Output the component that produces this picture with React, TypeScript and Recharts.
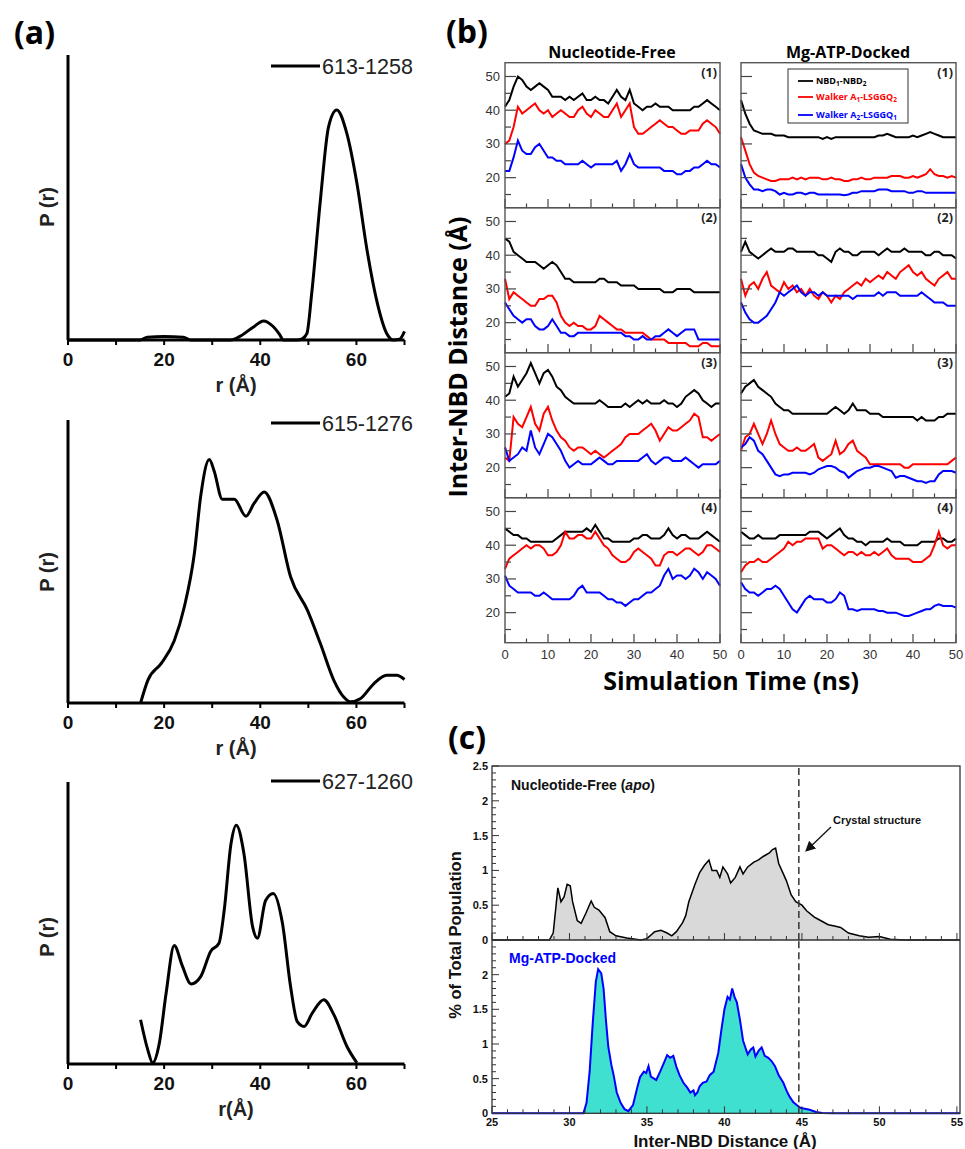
import React from 'react';
import { LineChart, Line, AreaChart, Area, XAxis, YAxis, ReferenceLine } from 'recharts';

const ARIAL = '"Liberation Sans", Arial, Helvetica, sans-serif';
const MYRIAD = '"Open Sans", "Noto Sans", sans-serif';

// ---------- (a) P(r) distance distributions ----------
const A1_R = [0, 15, 16.5, 20, 24, 25.5, 33.8, 36, 38.5, 40.7, 42.5, 44, 44.8, 47.6, 48.8, 49.7, 50.7, 52.5, 54.2, 55.9, 58, 60.1, 62.2, 64.2, 66.3, 67.7, 69, 70];
const A1_P = [0, 0, 1, 1.2, 1, 0, 0, 1.5, 4.5, 6.7, 5, 2, 0, 0, 0.5, 2.3, 16.4, 49, 74.8, 80.7, 72.5, 55, 31.6, 14, 2.3, 0, 0.3, 3];

const A2_R = [15.1, 16.6, 19.4, 22.1, 24.2, 26.3, 27.6, 29.4, 30.4, 32.1, 34.6, 37, 38.7, 40.8, 43.5, 46.3, 49.8, 52.5, 55.3, 57.4, 58.7, 60.8, 63.6, 66.3, 68.4, 70];
const A2_P = [0, 8, 14, 22, 34, 53, 73, 86, 82, 72, 72, 66, 70.5, 74.6, 64.6, 44.6, 32.8, 21, 8, 2, 0.4, 1.5, 6.8, 9.8, 9.8, 8.3];

const A3_R = [15.1, 16.6, 17.6, 19, 20.4, 22.1, 23.8, 25.6, 27.6, 29.7, 31.4, 32.5, 33.9, 35, 36.6, 38.4, 39.4, 41.1, 42.7, 44.6, 46.3, 47.7, 49.1, 50.8, 53.2, 55.3, 58, 60.1];
const A3_P = [15.7, 5, 0.4, 7.4, 25, 42, 34.7, 28.4, 31, 40, 42.8, 54.6, 78, 84.7, 74.6, 48.7, 44.6, 58, 60.5, 50, 27.5, 15, 13.3, 18, 22.8, 17.5, 6.3, 0.4];

const A_NAMES = ['613-1258', '615-1276', '627-1260'];
const A_R_TICKS = [0, 10, 20, 30, 40, 50, 60, 70];

// ---------- (b) inter-NBD distance vs simulation time ----------
const TIME = [
  0, 1, 2, 3, 4, 5, 6, 7, 8, 9,
  10, 11, 12, 13, 14, 15, 16, 17, 18, 19,
  20, 21, 22, 23, 24, 25, 26, 27, 28, 29,
  30, 31, 32, 33, 34, 35, 36, 37, 38, 39,
  40, 41, 42, 43, 44, 45, 46, 47, 48, 49,
  50,
];

const NF1_BLK = [41, 43, 47, 50, 49, 47, 46, 47, 48, 47, 46, 44, 44, 44, 43, 44, 43, 44, 45, 43, 43, 44, 43, 43, 42, 44, 46, 44, 43, 46, 42, 41, 40, 41, 41, 42, 41, 41, 41, 40, 40, 40, 40, 40, 41, 41, 42, 43, 42, 41, 40];
const NF1_RED = [30, 31, 35, 41, 39, 40, 41, 42, 40, 39, 40, 38, 39, 40, 39, 38, 38, 40, 41, 39, 38, 40, 39, 38, 38, 40, 42, 38, 40, 42, 35, 33, 33, 34, 35, 36, 37, 36, 35, 35, 34, 33, 33, 34, 34, 34, 36, 37, 36, 35, 33];
const NF1_BLU = [22, 22, 26, 31, 28, 27, 27, 29, 30, 28, 26, 26, 25, 25, 24, 24, 24, 24, 25, 24, 23, 24, 24, 24, 24, 24, 25, 22, 24, 27, 24, 23, 23, 23, 23, 23, 23, 22, 22, 22, 21, 21, 22, 22, 23, 23, 24, 25, 24, 24, 23];

const NF2_BLK = [45, 44, 41, 40, 39, 38, 38, 38, 37, 36, 37, 38, 37, 35, 33, 33, 32, 32, 32, 32, 32, 32, 33, 33, 32, 32, 32, 31, 31, 31, 31, 30, 30, 30, 30, 30, 30, 29, 29, 29, 30, 30, 30, 30, 29, 29, 29, 29, 29, 29, 29];
const NF2_RED = [33, 27, 29, 28, 27, 26, 25, 25, 27, 27, 28, 28, 26, 22, 20, 19, 20, 19, 19, 18, 18, 19, 22, 21, 20, 19, 18, 18, 17, 17, 17, 17, 17, 16, 15, 15, 15, 15, 14, 14, 14, 14, 14, 13, 13, 13, 14, 14, 13, 13, 13];
const NF2_BLU = [26, 24, 22, 21, 20, 21, 21, 19, 18, 18, 19, 21, 19, 17, 17, 16, 16, 17, 17, 17, 17, 17, 17, 17, 17, 17, 17, 17, 16, 16, 15, 15, 16, 15, 15, 16, 16, 17, 18, 17, 16, 17, 18, 18, 18, 15, 15, 15, 15, 15, 15];

const NF3_BLK = [41, 42, 47, 44, 46, 48, 51, 48, 45, 48, 49, 47, 44, 43, 41, 40, 39, 39, 39, 39, 39, 39, 40, 39, 38, 38, 38, 38, 39, 38, 39, 40, 39, 40, 39, 39, 39, 40, 39, 39, 38, 39, 41, 42, 43, 42, 40, 39, 38, 39, 39];
const NF3_RED = [23, 22, 35, 33, 32, 35, 38, 33, 31, 36, 38, 34, 31, 29, 28, 26, 25, 26, 26, 25, 24, 25, 24, 23, 24, 25, 26, 27, 29, 30, 30, 30, 31, 32, 33, 31, 28, 30, 32, 31, 31, 32, 33, 34, 36, 35, 29, 29, 28, 29, 30];
const NF3_BLU = [26, 22, 23, 24, 26, 25, 31, 26, 24, 27, 30, 29, 27, 25, 22, 20, 21, 22, 21, 21, 21, 22, 23, 22, 21, 21, 22, 22, 22, 22, 22, 22, 23, 24, 22, 21, 22, 23, 23, 22, 22, 22, 23, 22, 21, 20, 21, 21, 21, 21, 22];

const NF4_BLK = [45, 44, 43, 43, 42, 42, 41, 41, 41, 41, 41, 41, 42, 43, 44, 44, 44, 44, 44, 45, 44, 46, 44, 42, 42, 41, 41, 41, 41, 41, 42, 42, 43, 43, 42, 42, 42, 43, 45, 43, 42, 43, 43, 42, 42, 42, 43, 44, 43, 42, 41];
const NF4_RED = [33, 36, 37, 38, 39, 40, 39, 40, 40, 39, 37, 37, 38, 40, 44, 42, 42, 43, 43, 42, 42, 44, 42, 40, 39, 37, 36, 35, 35, 36, 38, 39, 38, 37, 36, 34, 34, 37, 38, 38, 37, 38, 39, 39, 38, 37, 38, 40, 40, 39, 38];
const NF4_BLU = [31, 28, 27, 26, 26, 26, 26, 25, 25, 26, 25, 24, 24, 24, 24, 24, 25, 27, 28, 26, 26, 26, 26, 25, 24, 24, 23, 23, 22, 23, 24, 24, 25, 26, 26, 27, 28, 31, 33, 30, 31, 31, 30, 31, 33, 32, 30, 32, 31, 30, 28];

const MG1_BLK = [43, 39, 36, 34, 33.5, 33, 33, 33, 32.5, 32.5, 32.5, 32, 32, 32, 32, 32, 32, 32, 32, 31.5, 32, 31.5, 32, 32, 32, 32, 32, 32, 32, 32, 32, 32, 32.5, 32.5, 33, 32.5, 32, 32, 32, 32, 32.5, 32, 32.5, 33, 33.5, 33, 32.5, 32, 32, 32, 32];
const MG1_RED = [32, 28, 24, 21.5, 20.5, 20, 19.5, 19, 19, 19.5, 19.5, 19.5, 20, 19.5, 20, 19.5, 20, 20, 20, 19.5, 19.5, 20, 19.5, 19.5, 19, 19, 19.5, 19.5, 20, 19.5, 19.5, 20, 20, 20, 20, 20.5, 20.5, 20.5, 20, 20, 20.5, 20, 20.5, 21, 22.5, 21, 20.5, 20.5, 20, 20.5, 20];
const MG1_BLU = [24, 20, 18, 16.5, 16.5, 16, 16.5, 16.5, 16, 15, 15.5, 15, 15, 15.5, 15.5, 15, 15.5, 15.5, 15, 15, 15, 15, 15, 15, 14.8, 15, 15.5, 15.5, 16, 16, 16, 16, 16.5, 16.5, 16.5, 16, 16, 16, 16, 15.5, 15.5, 16, 16, 15.5, 15.5, 15.5, 15.5, 15.5, 15.5, 15.5, 15.5];

const MG2_BLK = [41, 44, 41, 40, 39, 40, 41, 42, 41, 41, 41, 42, 42, 41, 41, 41, 41, 41, 40, 40, 39, 38, 41, 42, 41, 41, 40, 40, 41, 41, 41, 41, 40, 41, 42, 41, 41, 41, 42, 41, 41, 41, 41, 40, 40, 41, 41, 40, 40, 40, 39];
const MG2_RED = [33, 28, 31, 32, 30, 33, 35, 31, 30, 29, 32, 30, 31, 29, 30, 28, 30, 28, 27, 29, 28, 26, 28, 27, 29, 30, 31, 32, 31, 33, 32, 33, 34, 33, 35, 34, 33, 35, 36, 37, 35, 34, 35, 33, 32, 31, 33, 34, 35, 33, 33];
const MG2_BLU = [26, 23, 21, 20, 20, 21, 22, 24, 26, 29, 28, 29, 30, 31, 29, 28, 29, 29, 28, 29, 28, 28, 28, 28, 28, 28, 27, 28, 28, 28, 28, 28, 29, 28, 29, 29, 29, 28, 28, 28, 28, 28, 29, 28, 27, 26, 26, 26, 25, 25, 25];

const MG3_BLK = [42, 44, 45, 46, 44, 43, 42, 41, 39, 38, 37, 37, 36, 36, 36, 36, 36, 36, 36, 36, 36, 37, 38, 37, 36, 37, 39, 37, 37, 37, 36, 36, 36, 35, 35, 35, 35, 35, 35, 35, 35, 34, 35, 34, 34, 34, 35, 35, 36, 36, 36];
const MG3_RED = [25, 29, 30, 33, 30, 27, 30, 34, 30, 27, 26, 25, 25, 26, 25, 25, 26, 27, 23, 22, 23, 24, 28, 24, 25, 27, 28, 25, 24, 23, 21, 21, 21, 21, 21, 21, 21, 21, 20, 20, 21, 21, 21, 21, 21, 21, 21, 21, 21, 22, 23];
const MG3_BLU = [26, 27, 29, 28, 25, 24, 22, 20, 18, 17.5, 18, 18, 18.5, 18.5, 18.5, 18.5, 18, 18.5, 19.5, 20, 20.5, 20.5, 20, 19, 18.5, 17, 18, 19, 19.5, 20, 20, 20.5, 20.5, 20, 19.5, 19, 17, 17.5, 17.5, 17, 16.5, 16, 16, 15.5, 16, 16, 18, 19, 19, 19, 18.5];

const MG4_BLK = [44, 43, 42, 42, 43, 42, 42, 42, 42, 43, 43, 43, 43, 43, 43, 43, 44, 44, 44, 43, 42, 43, 44, 45, 43, 42, 42, 41, 41, 40, 41, 41, 41, 41, 42, 41, 41, 41, 40, 40, 40, 40, 41, 41, 41, 41, 42, 42, 41, 41, 42];
const MG4_RED = [32, 34, 35, 35, 36, 35, 35, 36, 37, 38, 39, 41, 40, 41, 41, 42, 42, 42, 42, 39, 40, 40, 39, 38, 37, 38, 38, 37, 38, 37, 37, 38, 37, 38, 39, 37, 36, 36, 36, 36, 35, 35, 35, 36, 37, 40, 44, 40, 39, 40, 40];
const MG4_BLU = [29, 27, 26, 26, 25, 26, 27, 27, 28, 27, 25, 23, 21, 20, 22, 24, 25, 24, 24, 24, 23, 23, 24, 26, 25, 21, 21, 20.5, 21, 21, 21, 21, 20.5, 20.5, 20, 20, 20, 19.5, 19, 19, 19.5, 20, 20.5, 21, 21, 22, 22.5, 22, 22, 22, 21.5];

const B_TIME_TICKS = [0, 5, 10, 15, 20, 25, 30, 35, 40, 45, 50];
const B_DIST_TICKS = [15, 20, 25, 30, 35, 40, 45, 50];

// ---------- (c) population histograms ----------
const APO_X = [25, 28.7, 28.95, 29.25, 29.45, 29.65, 29.85, 30.05, 30.2, 30.5, 30.75, 31.05, 31.4, 31.6, 31.9, 32.3, 32.6, 33.0, 33.7, 34.6, 35.0, 35.5, 35.9, 36.3, 36.6, 36.9, 37.3, 37.5, 37.7, 38.1, 38.4, 38.7, 39.0, 39.2, 39.5, 39.7, 39.9, 40.2, 40.4, 40.7, 41.0, 41.2, 41.5, 41.9, 42.2, 42.5, 42.9, 43.1, 43.3, 43.5, 43.8, 44.0, 44.3, 44.6, 45.0, 45.3, 45.8, 46.2, 46.7, 47.1, 47.5, 48.0, 48.7, 49.3, 50.0, 50.7, 51.6, 55.2];
const APO_Y = [0, 0, 0.1, 0.75, 0.55, 0.62, 0.8, 0.78, 0.55, 0.28, 0.24, 0.38, 0.56, 0.47, 0.43, 0.32, 0.12, 0.06, 0.03, 0, 0.02, 0.12, 0.14, 0.1, 0.06, 0.12, 0.25, 0.35, 0.55, 0.8, 0.97, 1.07, 1.15, 1.0, 1.0, 0.9, 1.05, 0.95, 0.82, 0.9, 1.05, 0.95, 1.05, 1.12, 1.15, 1.2, 1.25, 1.3, 1.32, 1.1, 0.95, 0.85, 0.65, 0.55, 0.5, 0.42, 0.33, 0.28, 0.22, 0.2, 0.18, 0.1, 0.06, 0.04, 0.05, 0.01, 0, 0];

const MG_X = [25, 30.9, 31.1, 31.3, 31.5, 31.7, 31.85, 32.05, 32.2, 32.35, 32.5, 32.7, 32.85, 33.05, 33.3, 33.55, 33.8, 34.1, 34.35, 34.55, 34.8, 34.95, 35.1, 35.25, 35.6, 35.85, 36.1, 36.3, 36.5, 36.7, 36.9, 37.1, 37.35, 37.6, 37.8, 38.0, 38.1, 38.25, 38.4, 38.6, 38.85, 39.05, 39.3, 39.6, 39.8, 40.0, 40.2, 40.35, 40.5, 40.65, 40.8, 41.0, 41.2, 41.35, 41.5, 41.7, 41.86, 42.0, 42.2, 42.4, 42.6, 42.83, 43.05, 43.26, 43.5, 43.8, 44.0, 44.2, 44.45, 44.66, 44.9, 45.1, 45.5, 45.9, 46.3, 47, 55.2];
const MG_Y = [0, 0, 0.15, 0.6, 1.3, 1.9, 2.08, 2.02, 1.8, 1.35, 0.97, 0.7, 0.55, 0.3, 0.15, 0.06, 0.03, 0.12, 0.35, 0.52, 0.6, 0.58, 0.68, 0.53, 0.48, 0.6, 0.73, 0.84, 0.8, 0.83, 0.67, 0.55, 0.44, 0.37, 0.3, 0.33, 0.26, 0.3, 0.39, 0.44, 0.46, 0.55, 0.6, 0.87, 1.2, 1.5, 1.68, 1.64, 1.8, 1.68, 1.6, 1.35, 1.05, 0.95, 0.85, 0.92, 0.95, 0.82, 0.9, 0.95, 0.83, 0.8, 0.75, 0.68, 0.55, 0.44, 0.33, 0.24, 0.16, 0.12, 0.08, 0.07, 0.05, 0.02, 0.005, 0, 0];

const CRYSTAL_DIST = 44.8;
const C_DIST_TICKS = [25, 26, 27, 28, 29, 30, 31, 32, 33, 34, 35, 36, 37, 38, 39, 40, 41, 42, 43, 44, 45, 46, 47, 48, 49, 50, 51, 52, 53, 54, 55];
const C_POP_TICKS = [0, 0.1, 0.2, 0.3, 0.4, 0.5, 0.6, 0.7, 0.8, 0.9, 1, 1.1, 1.2, 1.3, 1.4, 1.5, 1.6, 1.7, 1.8, 1.9, 2, 2.1, 2.2, 2.3, 2.4, 2.5];

// layout
const A_LEFT = 68;
const A_W = 336.5;
const A_BOX = [
  { top: 55, h: 285 },
  { top: 420, h: 283 },
  { top: 782, h: 282 },
];
const B_COLS = [505, 741];
const B_ROWS = [62.7, 207.7, 352.7, 497.7];
const B_W = 215;
const B_H = 145;
const C_LEFT = 492;
const C_W = 468;
const C_TOP = 766;
const C_MID = 940;
const C_BOT = 1113.3;

const pairs = (xs: number[], ys: number[]) => xs.map((x, i) => ({ x, y: ys[i] }));
const traces = (k: number[], r: number[], b: number[]) =>
  TIME.map((t, i) => ({ t, k: k[i], r: r[i], b: b[i] }));

const B_DATA = [
  [traces(NF1_BLK, NF1_RED, NF1_BLU), traces(MG1_BLK, MG1_RED, MG1_BLU)],
  [traces(NF2_BLK, NF2_RED, NF2_BLU), traces(MG2_BLK, MG2_RED, MG2_BLU)],
  [traces(NF3_BLK, NF3_RED, NF3_BLU), traces(MG3_BLK, MG3_RED, MG3_BLU)],
  [traces(NF4_BLK, NF4_RED, NF4_BLU), traces(MG4_BLK, MG4_RED, MG4_BLU)],
];

// axes get a 1px band (recharts skips zero-size axes), margins shrink by 1 to compensate
function PrChart({ idx, r, p }: { idx: number; r: number[]; p: number[] }) {
  const box = A_BOX[idx];
  const m = { top: 4, right: 8, bottom: 34, left: 6 };
  const rTick = (props: any) => {
    const { x, y, payload } = props;
    const v = payload.value;
    return (
      <g>
        <line x1={x} x2={x} y1={y} y2={y + 5} stroke="#000" strokeWidth={2} />
        {v % 20 === 0 && (
          <text x={x} y={y + 19} textAnchor="middle" dominantBaseline="central"
            fontFamily={ARIAL} fontWeight="bold" fontSize={19} fill="#111">{v}</text>
        )}
      </g>
    );
  };
  return (
    <div style={{ position: 'absolute', left: A_LEFT - m.left, top: box.top - m.top }}>
      <LineChart width={A_W + m.left + m.right} height={box.h + m.top + m.bottom} data={pairs(r, p)}
        margin={{ top: m.top, right: m.right, bottom: m.bottom - 1, left: m.left - 1 }}>
        <XAxis type="number" dataKey="x" domain={[0, 70]} ticks={A_R_TICKS} interval={0} height={1}
          tickSize={0} tickMargin={0} tickLine={false} axisLine={false} tick={rTick} />
        <YAxis type="number" domain={[0, 100]} width={1} tick={false} tickLine={false} axisLine={false} />
        <ReferenceLine x={0} stroke="#000" strokeWidth={3} />
        <ReferenceLine y={0} stroke="#000" strokeWidth={3} />
        <Line type="monotone" dataKey="y" stroke="#000" strokeWidth={3} dot={false} isAnimationActive={false} />
      </LineChart>
    </div>
  );
}

function TracePanel({ row, col }: { row: number; col: number }) {
  const m = { top: 2, right: 14, bottom: 22, left: 34 };
  const showX = row === 3;
  const showY = col === 0;
  const tTick = (props: any) => {
    const { x, y, payload } = props;
    const v = payload.value;
    const major = v % 10 === 0;
    return (
      <g>
        <line x1={x} x2={x} y1={y} y2={y - (major ? 9 : 4.5)} stroke="#444" strokeWidth={1.2} />
        {showX && major && (
          <text x={x} y={y + 11} textAnchor="middle" dominantBaseline="central"
            fontFamily={ARIAL} fontSize={13} fill="#333">{v}</text>
        )}
      </g>
    );
  };
  const dTick = (props: any) => {
    const { x, y, payload } = props;
    const v = payload.value;
    const major = v % 10 === 0;
    return (
      <g>
        <line x1={x} x2={x + (major ? 11 : 6)} y1={y} y2={y} stroke="#444" strokeWidth={1.2} />
        {showY && major && (
          <text x={x - 5} y={y} textAnchor="end" dominantBaseline="central"
            fontFamily={ARIAL} fontSize={13} fill="#333">{v}</text>
        )}
      </g>
    );
  };
  return (
    <div style={{ position: 'absolute', left: B_COLS[col] - m.left, top: B_ROWS[row] - m.top }}>
      <LineChart width={B_W + m.left + m.right} height={B_H + m.top + m.bottom} data={B_DATA[row][col]}
        margin={{ top: m.top, right: m.right, bottom: m.bottom - 1, left: m.left - 1 }}>
        <XAxis type="number" dataKey="t" domain={[0, 50]} ticks={B_TIME_TICKS} interval={0} height={1}
          tickSize={0} tickMargin={0} tickLine={false} axisLine={false} tick={tTick} />
        <YAxis type="number" domain={[11, 54]} ticks={B_DIST_TICKS} interval={0} width={1} allowDataOverflow
          tickSize={0} tickMargin={0} tickLine={false} axisLine={false} tick={dTick} />
        <Line type="linear" dataKey="k" stroke="#000" strokeWidth={2} dot={false} isAnimationActive={false} />
        <Line type="linear" dataKey="r" stroke="#ff0000" strokeWidth={2} dot={false} isAnimationActive={false} />
        <Line type="linear" dataKey="b" stroke="#0000ff" strokeWidth={2} dot={false} isAnimationActive={false} />
      </LineChart>
    </div>
  );
}

function HistPanel({ lower }: { lower: boolean }) {
  const top = lower ? C_MID : C_TOP;
  const h = lower ? C_BOT - C_MID : C_MID - C_TOP;
  const m = { top: 10, right: 12, bottom: 20, left: 40 };
  const data = lower ? pairs(MG_X, MG_Y) : pairs(APO_X, APO_Y);
  const xTick = (props: any) => {
    const { x, y, payload } = props;
    const v = payload.value;
    const major = v % 5 === 0;
    return (
      <g>
        <line x1={x} x2={x} y1={y} y2={y - (major ? 7 : 4)} stroke="#333" strokeWidth={1} />
        {lower && major && (
          <text x={x} y={y + 9} textAnchor="middle" dominantBaseline="central"
            fontFamily={ARIAL} fontWeight="bold" fontSize={11} fill="#111">{v}</text>
        )}
      </g>
    );
  };
  const yTick = (props: any) => {
    const { x, y, payload } = props;
    const v = payload.value;
    const major = Math.abs(v * 2 - Math.round(v * 2)) < 1e-6;
    const showLabel = major && (!lower || v < 2.4);
    return (
      <g>
        <line x1={x} x2={x + (major ? 7 : 4)} y1={y} y2={y} stroke="#333" strokeWidth={1} />
        {showLabel && (
          <text x={x - 4} y={y} textAnchor="end" dominantBaseline="central"
            fontFamily={ARIAL} fontWeight="bold" fontSize={11} fill="#111">{v}</text>
        )}
      </g>
    );
  };
  return (
    <div style={{ position: 'absolute', left: C_LEFT - m.left, top: top - m.top }}>
      <AreaChart width={C_W + m.left + m.right} height={h + m.top + m.bottom} data={data}
        margin={{ top: m.top, right: m.right, bottom: m.bottom - 1, left: m.left - 1 }}>
        <XAxis type="number" dataKey="x" domain={[25, 55.2]} ticks={C_DIST_TICKS} interval={0} height={1}
          tickSize={0} tickMargin={0} tickLine={false} axisLine={false} tick={xTick} />
        <YAxis type="number" domain={[0, 2.5]} ticks={C_POP_TICKS} interval={0} width={1}
          tickSize={0} tickMargin={0} tickLine={false} axisLine={false} tick={yTick} />
        <Area type="linear" dataKey="y" stroke={lower ? '#0000ff' : '#000'} strokeWidth={lower ? 2 : 1.5}
          fill={lower ? '#40e0d0' : '#d9d9d9'} fillOpacity={1} isAnimationActive={false} />
        <ReferenceLine x={CRYSTAL_DIST} stroke="#333" strokeWidth={1.5} strokeDasharray="7 4" />
      </AreaChart>
    </div>
  );
}

function Overlay() {
  const sub = (s: string) => <tspan fontSize={6.5} dy={2.5}>{s}</tspan>;
  const up = (s: string) => <tspan dy={-2.5}>{s}</tspan>;
  return (
    <svg width={965} height={1149} style={{ position: 'absolute', left: 0, top: 0, pointerEvents: 'none' }}>
      <defs>
        <marker id="arr" markerWidth="8" markerHeight="8" refX="6" refY="4" orient="auto">
          <path d="M0,0 L8,4 L0,8 z" fill="#111" />
        </marker>
      </defs>
      {/* panel letters */}
      <text x={14} y={31} dominantBaseline="central" fontFamily={MYRIAD} fontWeight="bold" fontSize={32}>(a)</text>
      <text x={446} y={30} dominantBaseline="central" fontFamily={MYRIAD} fontWeight="bold" fontSize={32}>(b)</text>
      <text x={448} y={736} dominantBaseline="central" fontFamily={MYRIAD} fontWeight="bold" fontSize={32}>(c)</text>

      {/* (a) labels */}
      {A_BOX.map((b, i) => {
        const ly = [66, 423, 781][i];
        const cy = [207, 572, 937][i];
        return (
          <g key={i}>
            <line x1={271} x2={320} y1={ly} y2={ly} stroke="#000" strokeWidth={3} />
            <text x={322} y={ly + 1} dominantBaseline="central" fontFamily={ARIAL} fontSize={21.5} fill="#222">{A_NAMES[i]}</text>
            <text x={0} y={0} transform={`translate(47,${cy}) rotate(-90)`} textAnchor="middle" dominantBaseline="central"
              fontFamily={ARIAL} fontWeight="bold" fontSize={20} fill="#222">P (r)</text>
            <text x={236} y={b.top + b.h + 45} textAnchor="middle" dominantBaseline="central"
              fontFamily={ARIAL} fontWeight="bold" fontSize={20} fill="#222">{i === 2 ? 'r(Å)' : 'r (Å)'}</text>
          </g>
        );
      })}

      {/* (b) frames and labels */}
      {B_ROWS.map((y, r) =>
        B_COLS.map((x, c) => (
          <g key={`${r}-${c}`}>
            <rect x={x} y={y} width={B_W} height={B_H} fill="none" stroke="#555" strokeWidth={1.4} />
            <text x={x + B_W - 3} y={y + 10} textAnchor="end" dominantBaseline="central"
              fontFamily={MYRIAD} fontWeight="bold" fontSize={12.5} fill="#222">({r + 1})</text>
          </g>
        ))
      )}
      <text x={612} y={52} textAnchor="middle" dominantBaseline="central" fontFamily={MYRIAD} fontWeight="bold" fontSize={16}>Nucleotide-Free</text>
      <text x={848} y={52} textAnchor="middle" dominantBaseline="central" fontFamily={MYRIAD} fontWeight="bold" fontSize={16}>Mg-ATP-Docked</text>
      <text x={0} y={0} transform="translate(457,357) rotate(-90)" textAnchor="middle" dominantBaseline="central"
        fontFamily={MYRIAD} fontWeight="bold" fontSize={25}>Inter-NBD Distance (Å)</text>
      <text x={731} y={680} textAnchor="middle" dominantBaseline="central" fontFamily={MYRIAD} fontWeight="bold" fontSize={25}>Simulation Time (ns)</text>

      {/* (b) legend */}
      <rect x={788} y={69} width={120} height={54} fill="#fff" stroke="#333" strokeWidth={1} />
      <line x1={798} x2={813} y1={81} y2={81} stroke="#000" strokeWidth={1.8} />
      <text x={816} y={80} dominantBaseline="central" fontFamily={MYRIAD} fontWeight="bold" fontSize={9} fill="#000">
        NBD{sub('1')}{up('-NBD')}{sub('2')}
      </text>
      <line x1={798} x2={813} y1={97} y2={97} stroke="#ff0000" strokeWidth={1.8} />
      <text x={816} y={96} dominantBaseline="central" fontFamily={MYRIAD} fontWeight="bold" fontSize={9} fill="#ff0000">
        Walker A{sub('1')}{up('-LSGGQ')}{sub('2')}
      </text>
      <line x1={798} x2={813} y1={115} y2={115} stroke="#0000ff" strokeWidth={1.8} />
      <text x={816} y={114} dominantBaseline="central" fontFamily={MYRIAD} fontWeight="bold" fontSize={9} fill="#0000ff">
        Walker A{sub('2')}{up('-LSGGQ')}{sub('1')}
      </text>

      {/* (c) frame and labels */}
      <rect x={C_LEFT} y={C_TOP} width={C_W} height={C_BOT - C_TOP} fill="none" stroke="#333" strokeWidth={1.3} />
      <line x1={C_LEFT} x2={C_LEFT + C_W} y1={C_MID} y2={C_MID} stroke="#333" strokeWidth={1.3} />
      <text x={511} y={785} dominantBaseline="central" fontFamily={ARIAL} fontWeight="bold" fontSize={14} fill="#111">
        Nucleotide-Free (<tspan fontStyle="italic">apo</tspan>)
      </text>
      <text x={509} y={958} dominantBaseline="central" fontFamily={ARIAL} fontWeight="bold" fontSize={14} fill="#0000ff">Mg-ATP-Docked</text>
      <text x={833} y={820} dominantBaseline="central" fontFamily={ARIAL} fontWeight="bold" fontSize={11} fill="#111">Crystal structure</text>
      <line x1={831} y1={827} x2={807} y2={850} stroke="#111" strokeWidth={1.3} markerEnd="url(#arr)" />
      <text x={0} y={0} transform="translate(455,935) rotate(-90)" textAnchor="middle" dominantBaseline="central"
        fontFamily={ARIAL} fontWeight="bold" fontSize={16.5} fill="#111">% of Total Population</text>
      <text x={725} y={1141} textAnchor="middle" dominantBaseline="central" fontFamily={ARIAL} fontWeight="bold" fontSize={17} fill="#111">Inter-NBD Distance (Å)</text>
    </svg>
  );
}

export default function App() {
  return (
    <div style={{ position: 'absolute', left: 0, top: 0, width: 965, height: 1149, background: '#fff', overflow: 'hidden' }}>
      <PrChart idx={0} r={A1_R} p={A1_P} />
      <PrChart idx={1} r={A2_R} p={A2_P} />
      <PrChart idx={2} r={A3_R} p={A3_P} />
      {B_ROWS.map((_, r) => B_COLS.map((__, c) => <TracePanel key={`${r}-${c}`} row={r} col={c} />))}
      <HistPanel lower={false} />
      <HistPanel lower />
      <Overlay />
    </div>
  );
}
